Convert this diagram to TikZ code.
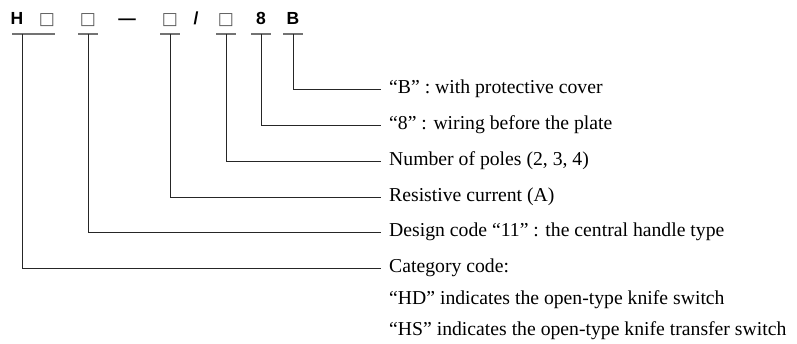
\documentclass[tikz,border=0pt]{standalone}
\usepackage{fontspec}
\setmainfont{Liberation Serif}
\setsansfont{Liberation Sans}
\newfontfamily\symfont{DejaVu Sans}
\begin{document}
\begin{tikzpicture}[x=1pt,y=-1pt,
  code/.style={font=\sffamily\bfseries\fontsize{17.5}{17.5}\selectfont, inner sep=0pt, anchor=base},
  sq/.style={font=\symfont\fontsize{17}{17}\selectfont, text=black!65, inner sep=0pt, anchor=base},
  lab/.style={font=\fontsize{19.7}{19.7}\selectfont, anchor=west, inner ysep=0pt, inner xsep=8pt, text height=10pt, text depth=0pt},
  sub/.style={font=\fontsize{19.7}{19.7}\selectfont, anchor=base west, inner sep=0pt},
  uline/.style={draw=black!55, line width=1.1pt},
  conn/.style={draw=black!85, line width=0.8pt}]
\useasboundingbox (0,0) rectangle (797,344);
% top row
\node[code] (h)  at (17,25) {H};
\node[sq]   (s1) at (47,25) {□};
\node[sq]   (s2) at (88,25) {□};
\node[code] (d)  at (127,25) {—};
\node[sq]   (s3) at (170,25) {□};
\node[code] (sl) at (196,25) {/};
\node[sq]   (s4) at (226,25) {□};
\node[code] (e)  at (261,25) {8};
\node[code] (b)  at (293,25) {B};
% underlines
\draw[uline] (12,34) -- (55,34);
\draw[uline] (78,34) -- (98,34);
\draw[uline] (160,34) -- (180,34);
\draw[uline] (216,34) -- (236,34);
\draw[uline] (251,34) -- (271,34);
\draw[uline] (283,34) -- (303,34);
\coordinate (u1) at (22,34);
\coordinate (u2) at (88,34);
\coordinate (u3) at (170,34);
\coordinate (u4) at (226,34);
\coordinate (u5) at (261,34);
\coordinate (u6) at (293,34);
% labels
\node[lab] (l6) at (381,89)  {“B” : with protective cover};
\node[lab] (l5) at (381,125) {“8” : wiring before the plate};
\node[lab] (l4) at (381,161) {Number of poles (2, 3, 4)};
\node[lab] (l3) at (381,197) {Resistive current (A)};
\node[lab] (l2) at (381,232) {Design code “11” : the central handle type};
\node[lab] (l1) at (381,268) {Category code:};
\node[sub] (l1a) at (389,305) {“HD” indicates the open-type knife switch};
\node[sub] (l1b) at (389,335) {“HS” indicates the open-type knife transfer switch};
% connectors
\draw[conn] (u6) |- (l6.west);
\draw[conn] (u5) |- (l5.west);
\draw[conn] (u4) |- (l4.west);
\draw[conn] (u3) |- (l3.west);
\draw[conn] (u2) |- (l2.west);
\draw[conn] (u1) |- (l1.west);
\end{tikzpicture}
\end{document}
